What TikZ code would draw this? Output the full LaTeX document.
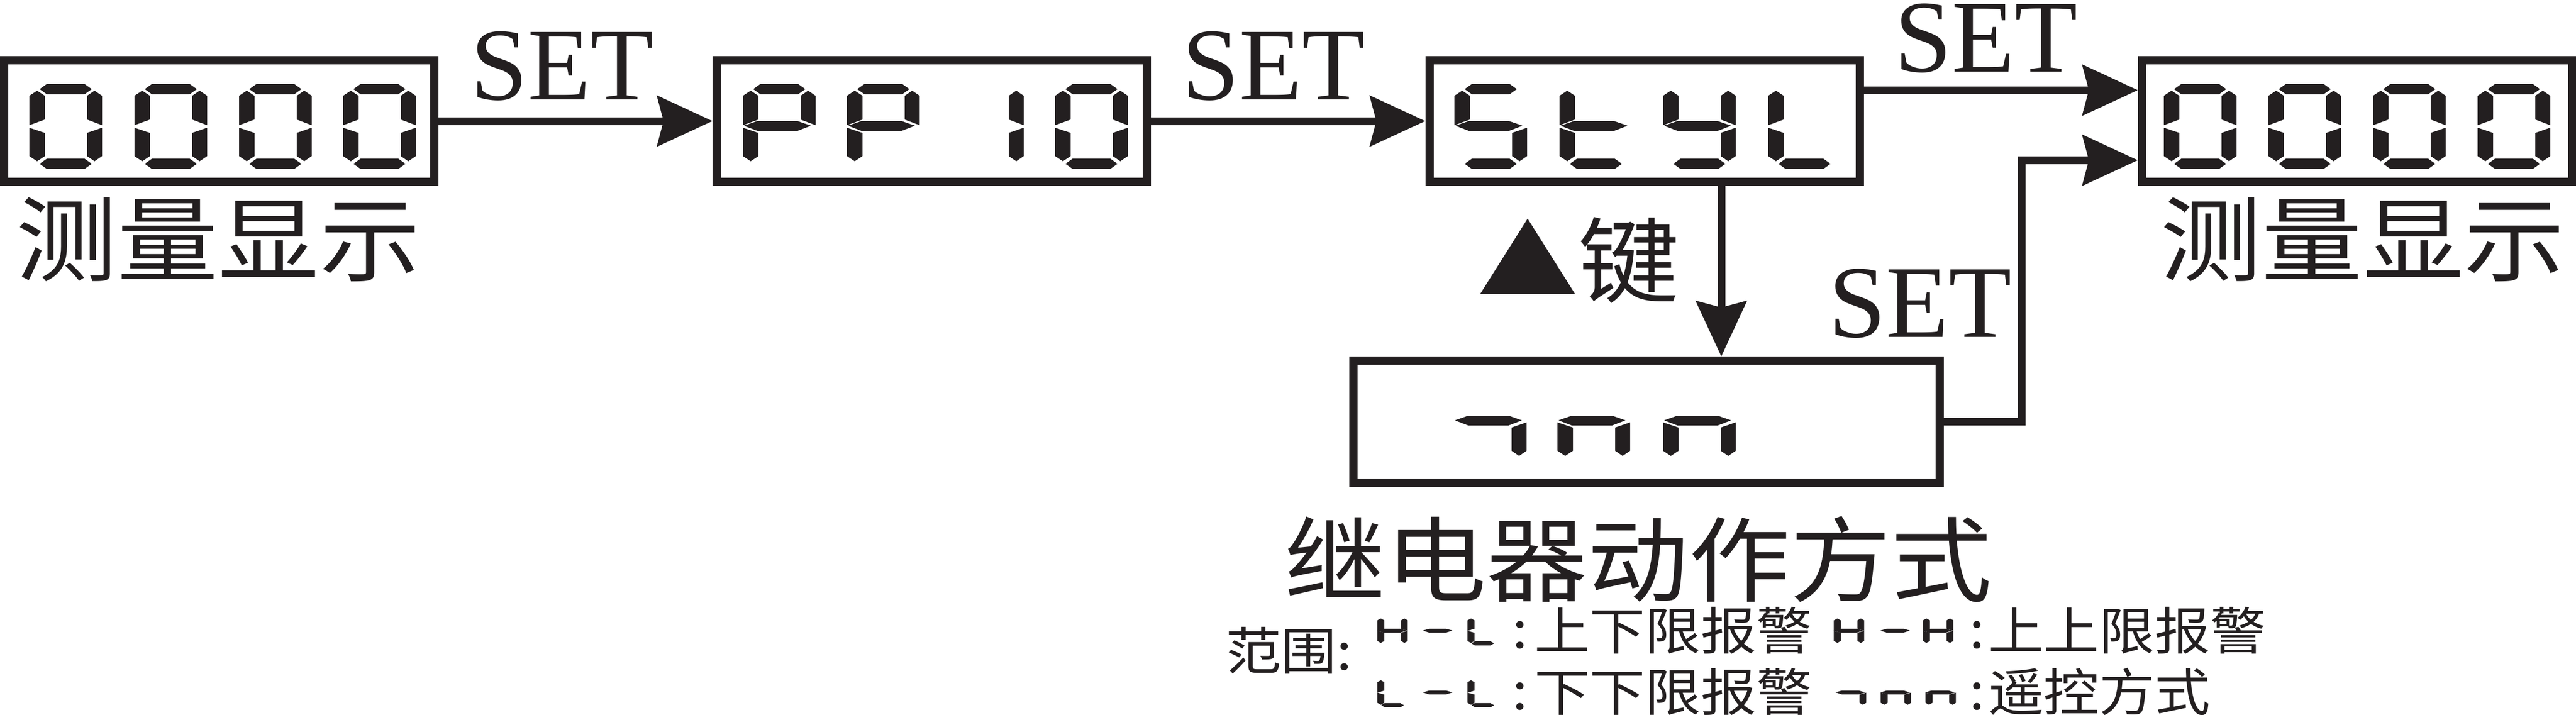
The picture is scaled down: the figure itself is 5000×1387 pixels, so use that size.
\documentclass[tikz,border=0pt]{standalone}
\usepackage{fontspec}
\setmainfont{Liberation Serif}
\newfontfamily\cjk[FakeStretch=1.09]{Noto Sans CJK SC}
\usetikzlibrary{arrows.meta,calc}
\definecolor{ink}{RGB}{35,31,32}
% seven-segment pieces, local px units (x right, y down), digit cell 141 x 165
\newcommand\segA{\fill[ink] (20,10)--(34,0)--(107,0)--(121,10)--(107,20)--(34,20)--cycle;}
\newcommand\segB{\fill[ink] (112,23)--(126.5,13)--(141,23)--(141,80)--(112,69)--cycle;}
\newcommand\segC{\fill[ink] (141,85)--(141,140)--(126.5,150)--(112,140)--(112,95)--cycle;}
\newcommand\segD{\fill[ink] (20,155)--(34,145)--(107,145)--(121,155)--(107,165)--(34,165)--cycle;}
\newcommand\segE{\fill[ink] (0,85)--(30,95)--(30,140)--(15,150)--(0,140)--cycle;}
\newcommand\segF{\fill[ink] (0,23)--(15,13)--(30,23)--(30,69)--(0,80)--cycle;}
\newcommand\segG{\fill[ink] (2,81)--(28,72)--(106,72)--(132,81)--(106,91)--(28,91)--cycle;}
\newcommand\sevseg[4]{\begin{scope}[shift={(#1,#2)},#3]#4\end{scope}}
\begin{document}
\begin{tikzpicture}[x=0.2pt,y=-0.2pt,
  box/.style={draw=ink,line width=3.2pt,minimum width=167pt,minimum height=47.2pt,inner sep=0pt,outer sep=1.6pt},
  conn/.style={draw=ink,line width=3pt,-{Stealth[length=21.4pt,width=19.4pt,inset=2.4pt]}},
  setlbl/.style={font=\fontsize{40}{48}\selectfont,text=ink,inner sep=0pt,anchor=base},
  cjkbig/.style={font=\cjk\fontsize{36}{43}\selectfont,text=ink,inner sep=0pt},
  cjksmall/.style={font=\cjk\fontsize{19.8}{24}\selectfont,text=ink,inner sep=0pt},
  segsmall/.style={xscale=0.41,yscale=0.335,every path/.append style={draw=ink,line width=0.25pt}}]
\useasboundingbox (0,0) rectangle (5000,1387);
\fill[white] (0,0) rectangle (5000,1387);

% boxes
\node[box] (b1) at (425.5,235) {};
\node[box] (b2) at (1808.5,235) {};
\node[box] (b3) at (3192,235) {};
\node[box] (b4) at (4575,235) {};
\node[box,minimum width=227.6pt,minimum height=47.4pt] (b5) at (3196,818.5) {};

% box 1: 0000
\sevseg{57}{163}{}{\segA\segB\segC\segD\segE\segF}
\sevseg{261}{163}{}{\segA\segB\segC\segD\segE\segF}
\sevseg{464}{163}{}{\segA\segB\segC\segD\segE\segF}
\sevseg{666}{163}{}{\segA\segB\segC\segD\segE\segF}
% box 2: PP 10
\sevseg{1442}{163}{}{\segA\segB\segF\segG\segE}
\sevseg{1644}{163}{}{\segA\segB\segF\segG\segE}
\sevseg{1846}{163}{}{\segB\segC}
\sevseg{2048}{163}{}{\segA\segB\segC\segD\segE\segF}
% box 3: StyL
\sevseg{2823}{163}{}{\segA\segF\segG\segC\segD}
\sevseg{3027}{163}{}{\segF\segG\segE\segD}
\sevseg{3228}{163}{}{\segF\segB\segG\segC\segD}
\sevseg{3432}{163}{}{\segF\segE\segD}
% box 4: 0000
\sevseg{4200}{163}{}{\segA\segB\segC\segD\segE\segF}
\sevseg{4403}{163}{}{\segA\segB\segC\segD\segE\segF}
\sevseg{4606}{163}{}{\segA\segB\segC\segD\segE\segF}
\sevseg{4809}{163}{}{\segA\segB\segC\segD\segE\segF}
% box 5
\sevseg{2822}{735}{}{\segG\segC}
\sevseg{3023}{735}{}{\segG\segE\segC}
\sevseg{3228}{735}{}{\segG\segE\segC}

% connectors
\draw[conn] (b1.east) -- (b2.west);
\draw[conn] (b2.east) -- (b3.west);
\coordinate (o3) at ([yshift=12pt]b3.east);
\draw[conn] (o3) -- (o3 -| b4.west);
\coordinate (dtop) at ([xshift=29.8pt]b3.south);
\draw[conn] (dtop) -- (dtop |- b5.north);
\coordinate (in2) at ([yshift=-15.2pt]b4.west);
\coordinate (bend) at (3924,311);
\draw[conn] (b5.east) -| (bend) -- (in2);

% labels
\node[setlbl] (s1) at (1091,193) {SET};
\node[setlbl] (s2) at (2472,193) {SET};
\node[setlbl] (s3) at (3855,139) {SET};
\node[setlbl] (s4) at (3727,654) {SET};
\node[cjkbig] (m1) at (424,465) {测量显示};
\node[cjkbig] (m4) at (4586,465) {测量显示};
\node[cjkbig] (key) at (3063.5,505) {▲键};
\node[cjkbig] (relay) at (3180,1086) {继电器动作方式};

% legend
\node[cjksmall,anchor=west] (rng) at (2378,1263) {范围:};
\sevseg{2674}{1197}{segsmall}{\segF\segB\segG\segE\segC}
\sevseg{2763}{1197}{segsmall}{\segG}
\sevseg{2849}{1197}{segsmall}{\segF\segE\segD}
\node[cjksmall] (c1) at (2950,1233) {:};
\node[cjksmall,anchor=west] (t1) at (2977,1224) {上下限报警};
\sevseg{3560}{1197}{segsmall}{\segF\segB\segG\segE\segC}
\sevseg{3651}{1197}{segsmall}{\segG}
\sevseg{3733}{1197}{segsmall}{\segF\segB\segG\segE\segC}
\node[cjksmall] (c2) at (3837,1233) {:};
\node[cjksmall,anchor=west] (t2) at (3858,1224) {上上限报警};
\sevseg{2674}{1317}{segsmall}{\segF\segE\segD}
\sevseg{2763}{1317}{segsmall}{\segG}
\sevseg{2849}{1317}{segsmall}{\segF\segE\segD}
\node[cjksmall] (c3) at (2950,1352) {:};
\node[cjksmall,anchor=west] (t3) at (2977,1343) {下下限报警};
\sevseg{3564}{1317}{segsmall}{\segG\segC}
\sevseg{3651}{1317}{segsmall}{\segG\segE\segC}
\sevseg{3738}{1317}{segsmall}{\segG\segE\segC}
\node[cjksmall] (c4) at (3837,1352) {:};
\node[cjksmall,anchor=west] (t4) at (3858,1343) {遥控方式};
\end{tikzpicture}
\end{document}
